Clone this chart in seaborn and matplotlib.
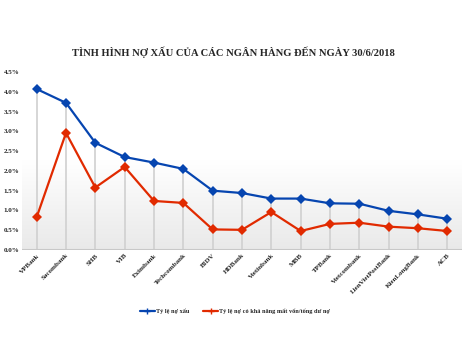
import numpy as np
import pandas as pd
import matplotlib
matplotlib.use("Agg")
import matplotlib.pyplot as plt
import seaborn as sns
from matplotlib.lines import Line2D

banks = ["VPBank", "Sacombank", "SHB", "VIB", "Eximbank", "Techcombank", "BIDV",
         "HDBank", "Vietinbank", "MBB", "TPBank", "Vietcombank", "LienVietPostBank",
         "KienLongBank", "ACB"]
no_xau = [4.07, 3.72, 2.71, 2.35, 2.21, 2.05, 1.50, 1.44, 1.30, 1.30, 1.18, 1.17, 0.99, 0.90, 0.79]
mat_von = [0.83, 2.96, 1.58, 2.10, 1.24, 1.19, 0.52, 0.51, 0.96, 0.48, 0.66, 0.69, 0.59, 0.55, 0.48]
series_names = ["Tỷ lệ nợ xấu", "Tỷ lệ nợ có khả năng mất vốn/tổng dư nợ"]
yticks = [0.0, 0.5, 1.0, 1.5, 2.0, 2.5, 3.0, 3.5, 4.0, 4.5]
title = "TÌNH HÌNH NỢ XẤU CỦA CÁC NGÂN HÀNG ĐẾN NGÀY 30/6/2018"

sns.set_style("white")
plt.rcParams["font.family"] = ["Liberation Serif", "DejaVu Serif"]

df = pd.DataFrame({
    "bank": banks * 2,
    "x": list(range(len(banks))) * 2,
    "value": no_xau + mat_von,
    "series": [series_names[0]] * len(banks) + [series_names[1]] * len(banks),
})

fig = plt.figure(figsize=(4.7, 3.53), dpi=100)
ax = fig.add_axes([22 / 470, 1 - 250 / 353, (462 - 22) / 470, (250 - 72) / 353])

n = len(banks)
xmin, xmax = -0.5, n - 0.5
# gradient background: white at top, light gray at bottom
grad = np.linspace(0, 1, 256).reshape(-1, 1)
ax.imshow(grad, extent=[xmin, xmax, 0, 4.5], aspect="auto", origin="upper",
          cmap=matplotlib.colors.LinearSegmentedColormap.from_list("g", ["#ffffff", "#ffffff", "#e9e9e9"]),
          zorder=0)

# drop lines
tops = np.maximum(no_xau, mat_von)
ax.vlines(range(n), 0, tops, color="#d0d0d0", lw=1.2, zorder=1)
ax.axhline(0, color="#c8c8c8", lw=1.5, zorder=1)

palette = {series_names[0]: "#0645b0", series_names[1]: "#e12a00"}
sns.lineplot(data=df, x="x", y="value", hue="series", palette=palette, marker="D",
             markersize=5.5, markeredgewidth=0, lw=1.6, ax=ax, zorder=3, legend=False)

ax.set_xlim(xmin, xmax)
ax.set_ylim(0, 4.5)
ax.set_yticks(yticks)
ax.set_yticklabels([f"{v:.1f}%" for v in yticks], fontsize=5, fontweight="bold")
ax.set_xticks(range(n))
ax.set_xticklabels(banks, rotation=45, ha="right", rotation_mode="anchor",
                   fontsize=5, fontweight="bold")
ax.tick_params(axis="both", length=0, pad=2)
ax.set_xlabel("")
ax.set_ylabel("")
for s in ax.spines.values():
    s.set_visible(False)

fig.text(233 / 470, 1 - 52 / 353, title, ha="center", va="center", fontsize=7.6,
         fontweight="bold")

handles = [Line2D([], [], color=palette[s], marker="+", markersize=4, lw=1.6) for s in series_names]
fig.legend(handles, series_names, loc="center", bbox_to_anchor=(0.5, 1 - 311 / 353),
           ncol=2, frameon=False, handlelength=2.4, handletextpad=0.2,
           columnspacing=2.2, prop={"weight": "bold", "size": 4.5})

fig.savefig("out.png", dpi=100)
